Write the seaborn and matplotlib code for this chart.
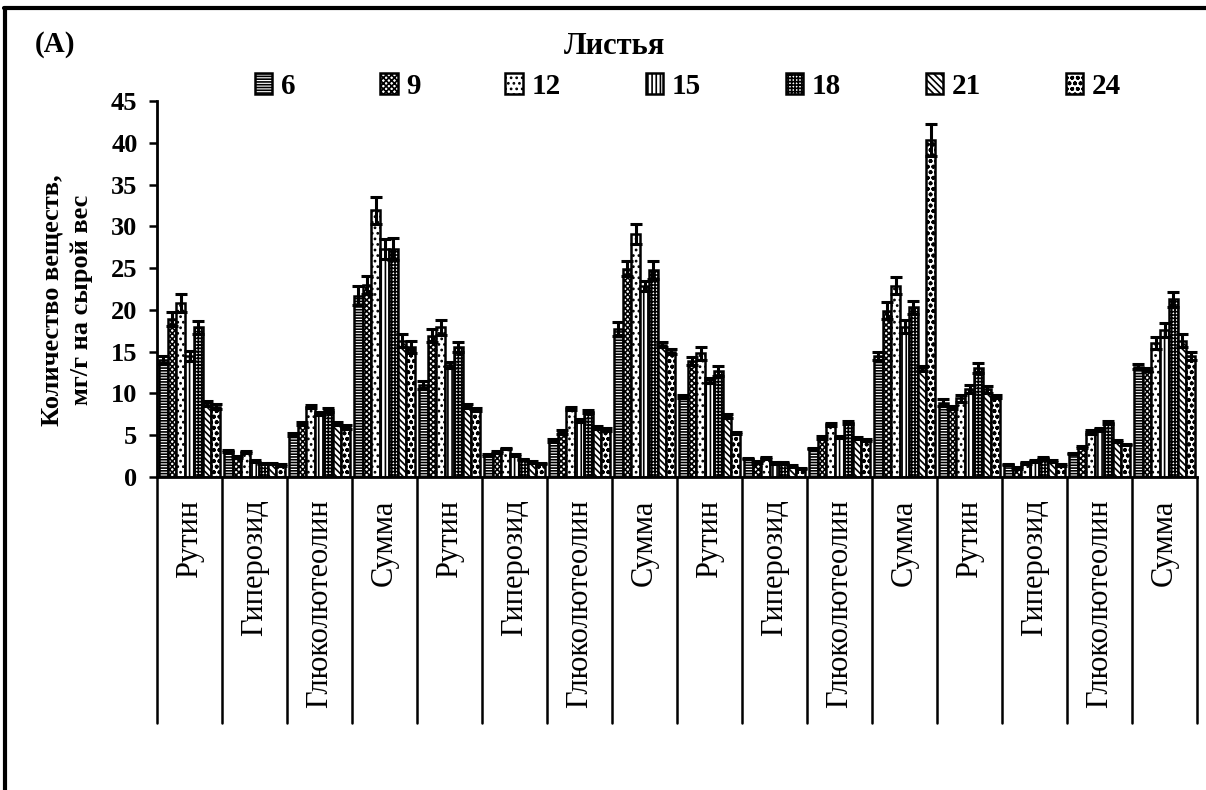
import numpy as np
import pandas as pd
import matplotlib
matplotlib.use("Agg")
import matplotlib.pyplot as plt
import matplotlib.transforms as mtransforms
from matplotlib.patches import Patch
from matplotlib.lines import Line2D
import seaborn as sns

# ---- data ----
categories = ["Рутин", "Гиперозид", "Глюколютеолин", "Сумма"] * 4
leaves = ["6", "9", "12", "15", "18", "21", "24"]

s6  = [14.0, 3.1, 5.1, 21.7, 11.0, 2.6, 4.4, 17.7, 9.6, 2.2, 3.4, 14.5, 8.9, 1.5, 2.8, 13.2]
s9  = [18.9, 2.4, 6.4, 23.0, 16.9, 3.0, 5.4, 24.9, 13.9, 1.8, 4.7, 19.9, 8.3, 1.1, 3.6, 12.9]
s12 = [20.8, 3.0, 8.4, 31.9, 17.9, 3.4, 8.2, 29.1, 14.8, 2.3, 6.3, 22.9, 9.4, 1.7, 5.4, 16.0]
s15 = [14.5, 1.9, 7.6, 27.3, 13.4, 2.6, 6.8, 22.9, 11.6, 1.7, 4.8, 18.0, 10.5, 1.9, 5.7, 17.6]
s18 = [17.9, 1.6, 8.0, 27.3, 15.6, 2.1, 7.8, 24.8, 12.7, 1.7, 6.5, 20.3, 13.0, 2.3, 6.5, 21.3]
s21 = [8.8, 1.6, 6.4, 16.3, 8.5, 1.8, 5.9, 15.8, 7.3, 1.3, 4.7, 13.0, 10.5, 1.9, 4.3, 16.3]
s24 = [8.4, 1.4, 6.0, 15.6, 8.1, 1.6, 5.7, 15.0, 5.3, 1.0, 4.4, 40.3, 9.6, 1.4, 3.9, 14.5]

e6  = [0.5, 0.1, 0.2, 1.1, 0.5, 0.1, 0.2, 0.8, 0.2, 0.1, 0.1, 0.5, 0.4, 0.1, 0.1, 0.3]
e9  = [0.8, 0.1, 0.2, 1.1, 0.8, 0.1, 0.2, 0.9, 0.5, 0.1, 0.2, 1.0, 0.2, 0.1, 0.1, 0.2]
e12 = [1.1, 0.1, 0.2, 1.6, 0.9, 0.1, 0.2, 1.2, 0.8, 0.1, 0.2, 1.0, 0.4, 0.1, 0.2, 0.7]
e15 = [0.6, 0.1, 0.2, 1.2, 0.4, 0.1, 0.2, 0.6, 0.3, 0.1, 0.1, 0.8, 0.5, 0.1, 0.2, 0.8]
e18 = [0.8, 0.1, 0.2, 1.3, 0.6, 0.1, 0.2, 1.1, 0.6, 0.1, 0.2, 0.8, 0.6, 0.1, 0.2, 0.9]
e21 = [0.3, 0.1, 0.2, 0.8, 0.2, 0.1, 0.2, 0.3, 0.2, 0.1, 0.1, 0.3, 0.4, 0.1, 0.1, 0.8]
e24 = [0.3, 0.1, 0.2, 0.7, 0.2, 0.1, 0.2, 0.3, 0.1, 0.1, 0.1, 1.9, 0.2, 0.1, 0.1, 0.5]

series = [s6, s9, s12, s15, s18, s21, s24]
errors = [e6, e9, e12, e15, e18, e21, e24]
yticks = [0, 5, 10, 15, 20, 25, 30, 35, 40, 45]

hatches = ["------", "xxxxxx", "...", "||||", "+++++", "\\\\\\\\\\", "ooo"]

rows = []
for leaf, vals in zip(leaves, series):
    for i, v in enumerate(vals):
        rows.append({"pos": str(i), "leaf": leaf, "value": v})
df = pd.DataFrame(rows)

sns.set_theme(style="white")
plt.rcParams["font.family"] = ["Liberation Serif", "DejaVu Serif"]
plt.rcParams["hatch.linewidth"] = 1.2
plt.rcParams["hatch.color"] = "black"
for k in ["text.color", "axes.labelcolor", "xtick.color", "ytick.color"]:
    plt.rcParams[k] = "black"

fig = plt.figure(figsize=(12.06, 7.90), dpi=100)
ax = fig.add_axes([157 / 1206, 1 - 477 / 790, (1197 - 157) / 1206, (477 - 101) / 790])

order = [str(i) for i in range(len(categories))]
sns.barplot(data=df, x="pos", y="value", hue="leaf", order=order, hue_order=leaves,
            palette=["white"] * len(leaves), errorbar=None, width=0.94,
            edgecolor="black", linewidth=1.8, legend=False, ax=ax)

for cont, h, err in zip(ax.containers, hatches, errors):
    xs, ys = [], []
    for bar in cont:
        bar.set_hatch(h)
        bar.set_edgecolor("black")
        xs.append(bar.get_x() + bar.get_width() / 2)
        ys.append(bar.get_height())
    ax.errorbar(xs, ys, yerr=err, fmt="none", ecolor="black", elinewidth=2.2,
                capsize=4.5, capthick=2.2, zorder=5)

ax.set_xlim(-0.5, len(categories) - 0.5)
ax.set_ylim(0, 45)
ax.set_yticks(yticks)
ax.set_yticklabels([str(t) for t in yticks], fontsize=19, fontweight="bold")
ax.tick_params(axis="y", direction="out", length=6, width=1.8, left=True, pad=8)
ax.set_xticks([])
ax.set_xlabel("")
ax.set_ylabel("Количество веществ,\nмг/г на сырой вес", fontsize=19,
              fontweight="bold", linespacing=1.35)
ax.yaxis.set_label_coords(-0.062, 0.47)
for side in ["top", "right"]:
    ax.spines[side].set_visible(False)
for side in ["left", "bottom"]:
    ax.spines[side].set_color("black")
    ax.spines[side].set_linewidth(2.0)

trans = mtransforms.blended_transform_factory(ax.transData, ax.transAxes)
for b in np.arange(-0.5, len(categories), 1.0):
    ax.plot([b, b], [0, -0.655], transform=trans, color="black", lw=1.8, clip_on=False)
for i, c in enumerate(categories):
    ax.text(i, -0.06, c, transform=trans, rotation=90, ha="center", va="top",
            fontsize=22, color="black")

handles = [Patch(facecolor="white", edgecolor="black", hatch=h, linewidth=1.8) for h in hatches]
fig.legend(handles, leaves, loc="center", bbox_to_anchor=(688 / 1206, 1 - 86 / 790),
           ncol=7, frameon=False, prop={"size": 21, "weight": "bold"},
           handlelength=0.6, handleheight=0.7, handletextpad=0.3, columnspacing=2.9)

fig.text(615 / 1206, 1 - 46 / 790, "Листья", ha="center", va="center",
         fontsize=22, fontweight="bold")
fig.text(35 / 1206, 1 - 45 / 790, "(A)", ha="left", va="center",
         fontsize=21, fontweight="bold")

fig.add_artist(Line2D([4 / 1206, 1], [1 - 8 / 790, 1 - 8 / 790], transform=fig.transFigure,
                      color="black", lw=3))
fig.add_artist(Line2D([5 / 1206, 5 / 1206], [0, 1 - 8 / 790], transform=fig.transFigure,
                      color="black", lw=3))

fig.savefig("out.png", dpi=100, facecolor="white")
